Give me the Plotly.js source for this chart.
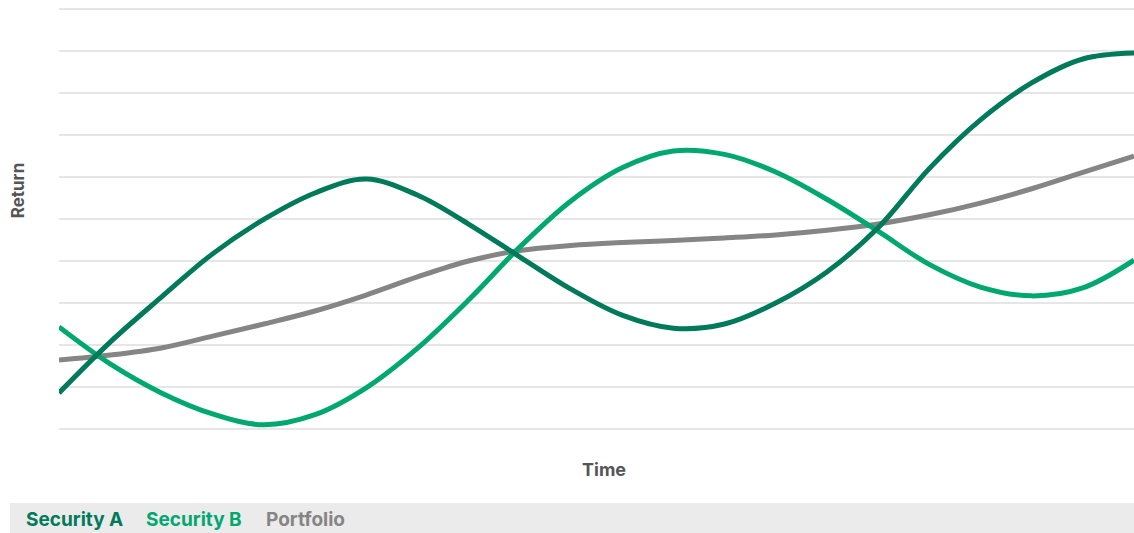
<!DOCTYPE html>
<html>
<head>
<meta charset="utf-8">
<script src="https://cdn.plot.ly/plotly-3.0.1.min.js"></script>
<style>html,body{margin:0;padding:0;background:#fff;}#chart{width:1134px;height:533px;}</style>
</head>
<body>
<div id="chart"></div>
<script>
const periods = [0, 1, 2, 3, 4, 5, 6, 7, 8, 9, 10, 11, 12, 13, 14, 15, 16, 17, 18, 19, 20, 21];
const securityA = [0.86, 2.07, 3.14, 4.17, 4.99, 5.62, 5.95, 5.57, 4.88, 4.10, 3.33, 2.71, 2.40, 2.50, 3.00, 3.74, 4.79, 6.20, 7.36, 8.24, 8.81, 8.95];
const securityB = [2.43, 1.55, 0.86, 0.36, 0.10, 0.34, 0.98, 1.92, 3.07, 4.33, 5.43, 6.22, 6.62, 6.54, 6.12, 5.47, 4.71, 3.92, 3.38, 3.17, 3.36, 4.02];
const portfolio = [1.64, 1.76, 1.93, 2.21, 2.50, 2.81, 3.19, 3.62, 4.00, 4.25, 4.37, 4.44, 4.49, 4.55, 4.62, 4.73, 4.88, 5.10, 5.38, 5.72, 6.11, 6.50];
const seriesNames = ['Security A', 'Security B', 'Portfolio'];
const seriesColors = ['#007a5a', '#00a870', '#858585'];

const font = 'Inter, Roboto, "Open Sans", sans-serif';
const traces = [
  {y: portfolio, name: seriesNames[2], color: seriesColors[2]},
  {y: securityB, name: seriesNames[1], color: seriesColors[1]},
  {y: securityA, name: seriesNames[0], color: seriesColors[0]}
].map(s => ({
  x: periods, y: s.y, name: s.name, type: 'scatter', mode: 'lines',
  line: {color: s.color, width: 5, shape: 'spline', smoothing: 1},
  hoverinfo: 'skip'
}));

const legendX = [-0.0326, 0.0791, 0.1907];
const annotations = [
  {text: '<b>Time</b>', x: 0.507, y: -0.095, xref: 'paper', yref: 'paper', showarrow: false,
   font: {family: font, size: 18, color: '#555'}, xanchor: 'center', yanchor: 'middle'},
  {text: '<b>Return</b>', x: -0.038, y: 0.566, xref: 'paper', yref: 'paper', showarrow: false, textangle: -90,
   font: {family: font, size: 17, color: '#555'}, xanchor: 'center', yanchor: 'middle'}
].concat(seriesNames.map((n, i) => ({
  text: '<b>' + n + '</b>', x: legendX[i], y: -0.214, xref: 'paper', yref: 'paper', showarrow: false,
  font: {family: font, size: 19, color: seriesColors[i]}, xanchor: 'left', yanchor: 'middle'
})));

const layout = {
  width: 1134, height: 533,
  margin: {l: 59, r: 0, t: 7, b: 104, pad: 0},
  paper_bgcolor: '#fff', plot_bgcolor: '#fff',
  showlegend: false,
  xaxis: {range: [0, 21], showgrid: false, zeroline: false, showticklabels: false, ticks: '', showline: false},
  yaxis: {range: [0, 10.048], dtick: 1, tick0: 0, showgrid: true, gridcolor: '#e6e6e6', gridwidth: 1.5,
          zeroline: true, zerolinecolor: '#e6e6e6', zerolinewidth: 1.5, showticklabels: false, ticks: '', showline: false},
  shapes: [{type: 'rect', xref: 'paper', yref: 'paper', x0: -0.0456, x1: 1, y0: -0.2464, y1: -0.1754,
            fillcolor: '#ebebeb', line: {width: 0}, layer: 'below'}],
  annotations: annotations
};
Plotly.newPlot('chart', traces, layout, {staticPlot: true, displayModeBar: false});
</script>
</body>
</html>
